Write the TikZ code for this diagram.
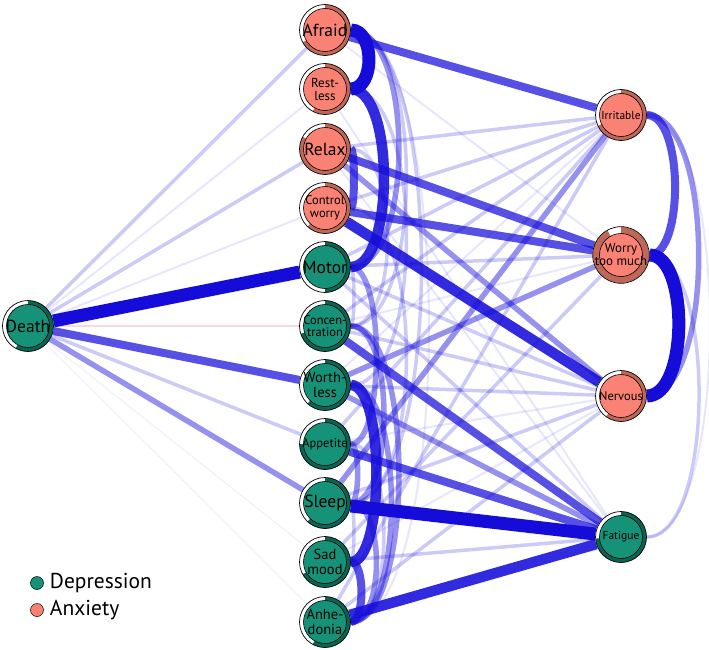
\documentclass[tikz,border=0pt]{standalone}
\usepackage{fontspec}
\setmainfont{PT Sans}
\usepackage{tikz}
\usetikzlibrary{positioning}
\definecolor{eblue}{RGB}{22,12,218}
\definecolor{negpink}{RGB}{246,218,225}
\definecolor{dteal}{RGB}{22,146,120}
\definecolor{dtealr}{RGB}{10,100,82}
\definecolor{asal}{RGB}{250,130,116}
\definecolor{asalr}{RGB}{192,104,88}
\pgfdeclarelayer{edges}
\pgfsetlayers{edges,main}
\newcommand{\labA}{\fontsize{17.5}{18}\selectfont}
\newcommand{\labB}{\fontsize{14.5}{14.5}\selectfont}
\newcommand{\labC}{\fontsize{13}{13}\selectfont}
\newcommand{\labD}{\fontsize{12.5}{12.5}\selectfont}
\newcommand{\labE}{\fontsize{11.5}{12}\selectfont}
\tikzset{
  sym/.style={circle, draw=black, line width=0.7pt, fill=white, minimum size=51pt, inner sep=0pt, align=center},
  pie/.style n args={3}{path picture={
    \fill[#2] (path picture bounding box.center) -- ++(90:28pt) arc[start angle=90, end angle={90-3.6*#1}, radius=28pt] -- cycle;
    \draw[fill=#3, line width=0.6pt] (path picture bounding box.center) circle (21.5pt);}},
  dep/.style={sym, pie={#1}{dtealr}{dteal}},
  anx/.style={sym, pie={#1}{asalr}{asal}},
  e00/.style={draw=eblue, draw opacity=.06, line width=1.2pt},
  e0/.style={draw=eblue, draw opacity=.1, line width=2pt},
  e1/.style={draw=eblue, draw opacity=.22, line width=3.5pt},
  e2/.style={draw=eblue, draw opacity=.45, line width=5.5pt},
  e3/.style={draw=eblue, draw opacity=.72, line width=8pt},
  e4/.style={draw=eblue, draw opacity=.88, line width=10.5pt},
  e5/.style={draw=eblue, line width=13pt},
  eneg/.style={draw=negpink, line width=1.2pt},
  legdot/.style={circle, draw=black, line width=0.5pt, minimum size=13pt, inner sep=0pt},
  legtxt/.style={font=\fontsize{21.5}{22}\selectfont, inner sep=0pt}
}
\begin{document}
\begin{tikzpicture}[x=1pt, y=1pt]
\useasboundingbox (0,0) rectangle (709,-650);
\node[dep=58, font=\labA] (dea) at (28,-326) {Death};
\node[anx=67, font=\labA] (afr) at (325,-30) {Afraid};
\node[anx=58, font=\labC] (rst) at (325,-89) {Rest-\\less};
\node[anx=83, font=\labA] (rlx) at (325,-149) {Relax};
\node[anx=62, font=\labD] (ctw) at (325,-208) {Control\\worry};
\node[dep=50, font=\labA] (mot) at (325,-267) {Motor};
\node[dep=70, font=\labD] (con) at (325,-326) {Concen-\\tration};
\node[dep=62, font=\labB] (wor) at (325,-385) {Worth-\\less};
\node[dep=75, font=\labD] (app) at (325,-444) {Appetite};
\node[dep=62, font=\labA] (slp) at (325,-503) {Sleep};
\node[dep=67, font=\labB] (sad) at (325,-562) {Sad\\mood};
\node[dep=58, font=\labB] (anh) at (325,-622) {Anhe-\\donia};
\node[anx=68, font=\labE] (irr) at (621,-115) {Irritable};
\node[anx=92, font=\labC] (wtm) at (621,-255) {Worry\\too much};
\node[anx=60, font=\labD] (nrv) at (621,-396) {Nervous};
\node[dep=74, font=\labE] (fat) at (621,-537) {Fatigue};
\node[legdot, fill=dteal] (ldep) at (37,-583) {};
\node[legdot, fill=asal] (lanx) at (37,-610) {};
\node[legtxt, right=6pt of ldep] (ldeptxt) {Depression};
\node[legtxt, right=6pt of lanx] (lanxtxt) {Anxiety};
\begin{pgfonlayer}{edges}
\draw[eneg] (dea) -- (con);
\foreach \a/\b in {dea/sad, dea/anh}
  \draw[e00] (\a) -- (\b);
\foreach \a/\b in {dea/rst, dea/ctw, afr/wtm, con/wtm, wor/irr, app/nrv, sad/nrv, rst/fat, rlx/fat}
  \draw[e0] (\a) -- (\b);
\foreach \a/\b/\c in {afr/anh/130, irr/fat/110}
  \draw[e0] (\a) .. controls +(\c,0) and +(\c,0) .. (\b);
\foreach \a/\b in {dea/afr, dea/rlx, dea/app, rlx/irr, ctw/irr, mot/irr, mot/wtm, mot/nrv, con/irr, con/nrv,
  wor/nrv, app/irr, slp/nrv, sad/fat, sad/wtm, anh/nrv, anh/irr, mot/fat}
  \draw[e1] (\a) -- (\b);
\foreach \a/\b/\c in {afr/con/100, afr/slp/120, rst/wor/100, ctw/slp/100, mot/con/30, app/anh/70,
  slp/sad/30, wtm/fat/95, rlx/con/75}
  \draw[e1] (\a) .. controls +(\c,0) and +(\c,0) .. (\b);
\foreach \a/\b in {dea/slp, rlx/nrv, wor/wtm, slp/irr, wor/fat}
  \draw[e2] (\a) -- (\b);
\foreach \a/\b/\c in {afr/mot/90, mot/app/60, con/slp/70, con/anh/90, wor/anh/80, app/slp/35,
  slp/anh/60, irr/nrv/95}
  \draw[e2] (\a) .. controls +(\c,0) and +(\c,0) .. (\b);
\foreach \a/\b in {dea/wor, afr/irr, rlx/wtm, ctw/wtm, con/fat, app/fat}
  \draw[e3] (\a) -- (\b);
\foreach \a/\b/\c in {rlx/ctw/30, sad/anh/40, irr/wtm/63}
  \draw[e3] (\a) .. controls +(\c,0) and +(\c,0) .. (\b);
\foreach \a/\b in {ctw/nrv, anh/fat}
  \draw[e4] (\a) -- (\b);
\foreach \a/\b/\c in {rst/mot/70, wor/sad/60}
  \draw[e4] (\a) .. controls +(\c,0) and +(\c,0) .. (\b);
\foreach \a/\b in {dea/mot, slp/fat}
  \draw[e5] (\a) -- (\b);
\foreach \a/\b/\c in {afr/rst/50, wtm/nrv/68}
  \draw[e5] (\a) .. controls +(\c,0) and +(\c,0) .. (\b);
\end{pgfonlayer}
\end{tikzpicture}
\end{document}
